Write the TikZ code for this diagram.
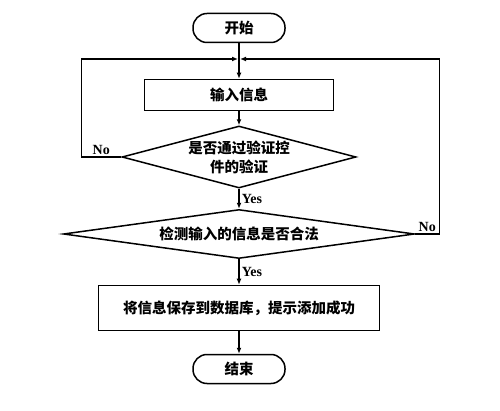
\documentclass[tikz,border=0pt]{standalone}
\usepackage{fontspec}
\setmainfont{Liberation Serif}
\newfontfamily\cjk{Noto Sans CJK SC}
\usetikzlibrary{positioning,shapes.geometric,arrows.meta}
\tikzset{
  flowline/.style={line width=1.5pt, -{Latex[length=6pt,width=5pt]}},
  cjktext/.style={font=\cjk\bfseries\fontsize{14.5}{19}\selectfont},
  terminal/.style={draw, line width=1.5pt, rounded corners=14pt,
    minimum width=92pt, minimum height=29pt, cjktext},
  process/.style={draw, line width=1.5pt, cjktext},
  decision/.style={draw, diamond, line width=1.5pt, inner sep=0pt,
    align=center, cjktext},
  answer/.style={font=\bfseries\fontsize{14}{16}\selectfont, inner sep=2pt}
}

\begin{document}
\begin{tikzpicture}[x=1pt, y=-1pt]
  \useasboundingbox (0,0) rectangle (500,411);
  \node[terminal] (start) at (239,28) {开始};
  \node[process, minimum width=189pt, minimum height=31pt] (input) at (239,95) {输入信息};
  \node[decision, minimum width=234pt, minimum height=62pt, shape aspect=3.8] (verify) at (239,157) {是否通过验证控\\件的验证};
  \node[decision, minimum width=351pt, minimum height=49pt, shape aspect=7.2] (legal) at (239,234) {检测输入的信息是否合法};
  \node[process, minimum width=281pt, minimum height=45pt] (save) at (239,308) {将信息保存到数据库，提示添加成功};
  \node[terminal] (finish) at (239,369) {结束};
  \coordinate (join) at (239,59);

  % main flow
  \draw[flowline] (start) -- (input);
  \draw[flowline] (input) -- (verify);
  \draw[flowline] (verify) -- node[answer, right] {Yes} (legal);
  \draw[flowline] (legal) -- node[answer, right] {Yes} (save);
  \draw[flowline] (save) -- (finish);

  % back to input
  \draw[flowline, shorten >=1pt] (verify.west) -- node[answer, above] {No} ++(-40,0) |- (join);
  \draw[flowline, shorten >=1pt] (legal.east) -- node[answer, above] {No} ++(24,0) |- (join);
\end{tikzpicture}
\end{document}
